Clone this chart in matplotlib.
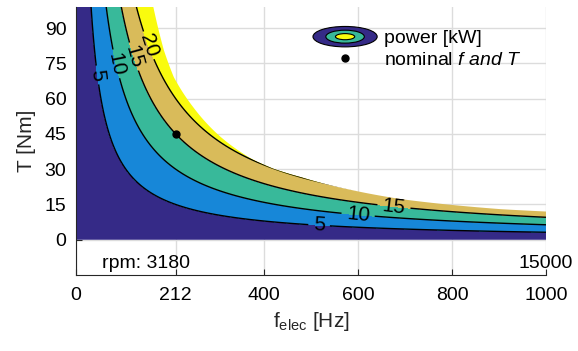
import numpy as np
import matplotlib
matplotlib.use("Agg")
import matplotlib.pyplot as plt
from matplotlib.patches import Ellipse, Polygon
from matplotlib.legend_handler import HandlerBase
from matplotlib.lines import Line2D

plt.rcParams['font.family'] = ['Liberation Sans', 'DejaVu Sans']
plt.rcParams['mathtext.fontset'] = 'custom'
plt.rcParams['mathtext.rm'] = 'Liberation Sans'
plt.rcParams['mathtext.it'] = 'Liberation Sans:italic'

# ---- data ----
pole_pairs = 4
f_nom = 212          # Hz
T_nom = 45           # Nm
rpm_nom = 3180
rpm_max = 15000
levels = [5, 10, 15, 20]
# torque envelope (max torque vs electrical frequency)
f_env = [164, 187, 208, 249, 308, 372, 420, 479, 585, 691, 800, 904, 1000]
T_env = [99.5, 80.6, 69.2, 56.5, 43.7, 34.6, 30.2, 26.6, 21.2, 17.3, 14.8, 13.0, 12.0]
T_top = 100
xticks = [0, 212, 400, 600, 800, 1000]
yticks = [0, 15, 30, 45, 60, 75, 90]

band_colors = ['#352a87', '#1787d8', '#38b99a', '#d9bb5a', '#f9fb0e']


def power_kw(f_el, torque):
    return torque * 2 * np.pi * (np.asarray(f_el) / pole_pairs) / 1000.0


# ---- grid of power values ----
f = np.linspace(0, 1000, 800)
T = np.linspace(0, T_top, 400)
F, TT = np.meshgrid(f, T)
P = power_kw(F, TT)

# envelope outline (interpolated in power, converted back to torque)
f_fine = np.linspace(f_env[0], f_env[-1], 400)
P_fine = np.interp(f_fine, f_env, power_kw(np.array(f_env), np.array(T_env)))
T_fine = P_fine / power_kw(f_fine, 1.0)
verts = [(0, 0), (1000, 0)] + list(zip(f_fine[::-1], T_fine[::-1])) + [(0, T_top)]

fig = plt.figure(figsize=(5.78, 3.51), dpi=100)
ax = fig.add_axes([76/578, 1-275/351, 470/578, 268/351])

clip = Polygon(verts, closed=True, transform=ax.transData, facecolor='none',
               edgecolor='none')

cf = ax.contourf(F, TT, P, levels=[0] + levels + [1000], colors=band_colors, zorder=1)
cf.set_clip_path(clip)
cs = ax.contour(F, TT, P, levels=levels, colors='black', linewidths=1.0, zorder=2)
label_pos = [(42, 70), (91, 75), (125, 78), (160, 83),
             (517, 5.5), (600, 10.2), (677, 14.9)]
ax.clabel(cs, fmt='%d', fontsize=15, inline=True, manual=label_pos)
cs.set_clip_path(clip)

ax.plot([f_nom], [T_nom], 'o', color='black', markersize=5, zorder=4)

ax.set_xlim(0, 1000)
ax.set_ylim(-15, 99)
ax.set_xticks(xticks)
ax.set_xticklabels([str(v) for v in xticks])
ax.set_yticks(yticks)
ax.tick_params(direction='in', labelsize=14, color='#262626', length=4)
ax.tick_params(axis='x', pad=9)
ax.tick_params(axis='y', pad=7)
ax.grid(True, color='#dcdcdc', linewidth=1.0)
ax.set_axisbelow(True)
for s in ['top', 'right']:
    ax.spines[s].set_visible(False)
for s in ['left', 'bottom']:
    ax.spines[s].set_color('#262626')

ax.set_xlabel(r'f$_{\mathrm{elec}}$ [Hz]', fontsize=15, color='#262626', labelpad=4)
ax.set_ylabel('T [Nm]', fontsize=15, color='#262626', labelpad=6)

ax.text(55, -12, 'rpm: %d' % rpm_nom, fontsize=14, va='baseline', ha='left')
ax.text(1000, -12, '%d' % rpm_max, fontsize=14, va='baseline', ha='center')


class EllipseHandler(HandlerBase):
    def create_artists(self, legend, orig_handle, xdescent, ydescent, width,
                       height, fontsize, trans):
        cx = width / 2 - xdescent
        cy = height / 2 - ydescent
        arts = []
        for w, h, c in [(1.0, 1.5, band_colors[0]), (0.6, 0.95, band_colors[2]),
                        (0.3, 0.45, band_colors[4])]:
            e = Ellipse((cx, cy), width * w, height * h, facecolor=c,
                        edgecolor='black', linewidth=0.8, transform=trans)
            arts.append(e)
        return arts


ell = Line2D([], [])
dot = Line2D([], [], marker='o', color='black', linestyle='none', markersize=5)
leg = ax.legend([ell, dot], ['power [kW]', r'nominal $\mathit{f\ and\ T}$'],
                handler_map={ell: EllipseHandler()}, frameon=False, fontsize=14,
                handlelength=3.3, handletextpad=0.35, labelspacing=0.2,
                loc='upper left', bbox_to_anchor=(0.467, 0.98))
leg.set_zorder(5)

fig.savefig('out.png', dpi=100)
